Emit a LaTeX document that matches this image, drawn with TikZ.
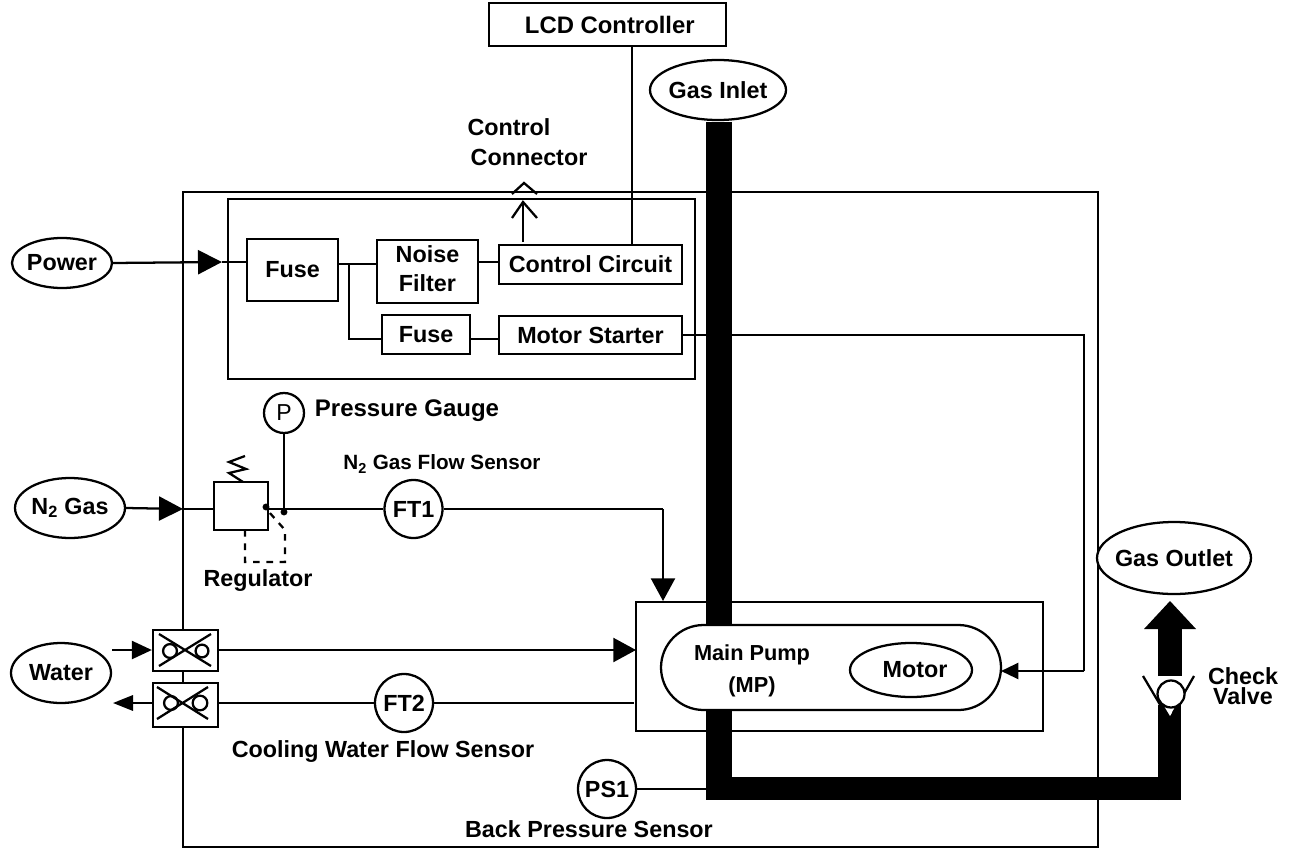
\documentclass[tikz,border=0pt]{standalone}
\usepackage{fontspec}
\setmainfont{Liberation Sans}
\usetikzlibrary{shapes.geometric,arrows.meta}
\tikzset{
  ln/.style={line width=1.7pt,line cap=butt},
  lbl/.style={font=\bfseries\fontsize{17.5pt}{21.5pt}\selectfont,inner sep=0pt,align=center},
  boxn/.style n args={2}{draw,ln,rectangle,fill=white,inner sep=0pt,align=center,font=\bfseries\fontsize{17.5pt}{21.5pt}\selectfont,minimum width=#1*0.75pt,minimum height=#2*0.75pt},
  oval/.style n args={2}{draw,ln,ellipse,fill=white,inner sep=-12pt,align=center,font=\bfseries\fontsize{17.5pt}{21.5pt}\selectfont,minimum width=#1*0.75pt,minimum height=#2*0.75pt},
  disc/.style={draw,ln,circle,fill=white,inner sep=0pt,font=\bfseries\fontsize{17.5pt}{21.5pt}\selectfont,minimum size=#1*0.75pt},
  big/.style={-{Triangle[length=18pt,width=18pt]}},
  mid/.style={-{Triangle[length=17pt,width=18pt]}},
  small/.style={-{Triangle[length=13pt,width=12pt]}},
  wIn/.style={-{Triangle[length=15pt,width=13.5pt]}},
  wOut/.style={-{Triangle[length=15pt,width=11.5pt]}},
  pipe/.style={line width=#1*0.75pt,line cap=butt,line join=miter},
}
\begin{document}
\begin{tikzpicture}[x=0.75pt,y=-0.75pt]
\useasboundingbox (0,0) rectangle (1291,863);
% enclosures
\node[boxn={915}{655}] (outer) at (640.5,519.5) {};
\node[boxn={467}{180}] (inner) at (461.5,289) {};
\node[boxn={237}{43},font=\bfseries\fontsize{17.9pt}{21.5pt}\selectfont] (lcd) at (607.5,24.5) {\raisebox{-2pt}{\hspace*{3.5pt}LCD Controller}};
% electrical section
\node[boxn={91}{62}] (fuseA) at (292.5,270) {Fuse};
\node[boxn={101}{63}] (noise) at (427.5,271.5) {\raisebox{1.5pt}{\begin{tabular}{@{}c@{}}Noise\\Filter\end{tabular}}};
\node[boxn={183}{39}] (ctrl) at (590.5,264.5) {\raisebox{0.7pt}{Control Circuit}};
\node[boxn={88}{39}] (fuseB) at (426,334.5) {\raisebox{-1pt}{Fuse}};
\node[boxn={183}{38}] (starter) at (590.5,335) {\raisebox{-0.7pt}{Motor Starter}};
\node[oval={100}{50}] (power) at (62,263) {Power};
\coordinate (powerTip) at (222,262);
\draw[ln,big] (power.east) -- (powerTip);
\draw[ln] (powerTip) -- (fuseA.west |- powerTip);
\coordinate (jA) at (338,264);
\coordinate (jB) at (349,264);
\coordinate (jC) at (349,339);
\draw[ln] (jA) -- (noise.west |- jA);
\draw[ln] (jB) -- (jC) -- (fuseB.west |- jC);
\coordinate (jD) at (470,339);
\draw[ln] (jD) -- (starter.west |- jD);
\coordinate (jE) at (478,262);
\draw[ln] (jE) -- (ctrl.west |- jE);
\coordinate (lcdDrop) at (632,46);
\draw[ln] (lcdDrop) -- (lcdDrop |- ctrl.north);
% control connector
\coordinate (ccBase) at (523,242);
\coordinate (ccTip) at (523,202);
\coordinate (ccA) at (512,218);
\coordinate (ccB) at (537,218);
\coordinate (capA) at (512,194);
\coordinate (capT) at (524,183);
\coordinate (capB) at (537,194);
\draw[ln] (ccBase) -- (ccTip);
\draw[ln] (ccA) -- (ccTip) -- (ccB);
\draw[ln] (capA) -- (capT) -- (capB);
\node[lbl,anchor=center] (ccL1) at (509,127) {Control};
\node[lbl,anchor=center] (ccL2) at (529,157) {Connector};
% motor feed
\node[boxn={407}{129}] (pump) at (839.5,666.5) {};
\node[draw,ln,rectangle,rounded corners=32pt,fill=white,minimum width=340*0.75pt,minimum height=85*0.75pt,inner sep=0pt] (mainp) at (831,667.5) {};
\node[lbl,font=\bfseries\fontsize{16.3pt}{23.5pt}\selectfont] (mpL) at (752,671) {Main Pump\\(MP)};
\node[oval={122}{54}] (motor) at (911,670) {\hspace*{6pt}Motor};
\coordinate (feedA) at (1084,335);
\coordinate (feedB) at (1084,671);
\coordinate (feedTip) at (1001,671);
\draw[ln] (starter.east |- feedA) -- (feedA) -- (feedB);
\draw[ln,small] (feedB) -- (feedTip);
% N2 line
\node[oval={110}{60}] (n2) at (70,508) {N\textsubscript{2} Gas};
\coordinate (n2Tip) at (183,509);
\node[boxn={54}{48}] (reg) at (241,506) {};
\draw[ln,big] (n2.east) -- (n2Tip);
\draw[ln] (n2Tip) -- (reg.west |- n2Tip);
\coordinate (sp1) at (245,456);
\coordinate (sp2) at (229,462);
\coordinate (sp3) at (246,469);
\coordinate (sp4) at (229,473);
\coordinate (sp5) at (243,482);
\draw[ln] (sp1) -- (sp2) -- (sp3) -- (sp4) -- (sp5);
\node[disc=40] (gauge) at (284,413) {\fontsize{17.3pt}{20pt}\selectfont\mdseries P};
\node[disc=58] (ft1) at (413.5,509) {FT1};
\coordinate (gaugeJ) at (284,509);
\draw[ln] (gauge.south) -- (gaugeJ);
\draw[ln] (reg.east |- ft1) -- (ft1.west);
\coordinate (dotA) at (266,507);
\coordinate (dotB) at (284,512);
\fill (dotA) circle (2.6pt) (dotB) circle (2.6pt);
\coordinate (ds1) at (245,530);
\coordinate (ds2) at (245,562);
\coordinate (ds3) at (285,562);
\coordinate (ds4) at (285,530);
\coordinate (ds5) at (269,512);
\draw[ln,dashed,dash pattern=on 5pt off 5pt] (ds1) -- (ds2) -- (ds3) -- (ds4) -- (ds5);
\coordinate (ftA) at (663,509);
\coordinate (ftTip) at (663,601);
\draw[ln] (ft1.east) -- (ftA);
\draw[ln,mid] (ftA) -- (ftTip);
\node[lbl,font=\bfseries\fontsize{18pt}{21.5pt}\selectfont] (pgL) at (407,411) {Pressure Gauge};
\node[lbl,font=\bfseries\fontsize{15.5pt}{21.5pt}\selectfont] (n2L) at (442,464) {N\textsubscript{2} Gas Flow Sensor};
\node[lbl] (regL) at (258,581) {Regulator};
% water
\node[oval={100}{60}] (water) at (61,673) {Water};
\node[boxn={65}{41}] (v1) at (185.5,650.5) {};
\node[boxn={65}{44}] (v2) at (185.5,705) {};
\coordinate (w1s) at (112,650);
\coordinate (w1e) at (636,650);
\coordinate (w2e) at (113,703);
\draw[ln,wIn] (w1s) -- (v1.west |- w1s);
\draw[ln,mid] (v1.east |- w1e) -- (w1e);
\draw[ln,wOut] (v2.west |- w2e) -- (w2e);
\node[disc=58] (ft2) at (404,703) {FT2};
\draw[ln] (v2.east |- ft2) -- (ft2.west);
\coordinate (w2r) at (634,703);
\draw[ln] (ft2.east) -- (w2r);
\node[lbl] (cwL) at (383,752) {Cooling Water Flow Sensor};
% valve glyphs
\coordinate (xa) at (159,634);\coordinate (xb) at (211,666);
\coordinate (xc) at (159,666);\coordinate (xd) at (211,634);
\draw[ln] (xa) -- (xb) (xc) -- (xd);
\coordinate (ca) at (170,651);\coordinate (cb) at (202,651);
\draw[ln] (ca) circle (5.2pt) (cb) circle (4.8pt);
\coordinate (xe) at (157,687);\coordinate (xf) at (208,719);
\coordinate (xg) at (157,719);\coordinate (xh) at (208,687);
\draw[ln] (xe) -- (xf) (xg) -- (xh);
\coordinate (cc) at (171,703);\coordinate (cd) at (200,703);
\draw[ln] (cc) circle (5.2pt) (cd) circle (5.5pt);
% back pressure
\node[disc=58] (ps1) at (607,789) {PS1};
\coordinate (psE) at (706,789);
\draw[ln] (ps1.east) -- (psE);
\node[lbl] (bpL) at (589,829) {Back Pressure Sensor};
% gas path
\node[oval={136}{60}] (inlet) at (718,90) {Gas Inlet};
\node[oval={154}{72}] (outlet) at (1174,558) {Gas Outlet};
\coordinate (p1) at (719,122);
\coordinate (p2) at (719,625);
\coordinate (p3) at (719,710);
\coordinate (p4) at (719,800);
\coordinate (p5) at (706,788.5);
\coordinate (p6) at (1181,788.5);
\coordinate (p7) at (1169.5,800);
\coordinate (p8) at (1169.5,705);
\draw[pipe=26] (p1) -- (p2);
\draw[pipe=26] (p3) -- (p4);
\draw[pipe=23] (p5) -- (p6);
\draw[pipe=23] (p7) -- (p8);
% check valve
\coordinate (o1) at (1170,676);
\coordinate (o2) at (1170,629);
\coordinate (oTip) at (1170,601);
\coordinate (oA) at (1144,629);
\coordinate (oB) at (1196,629);
\draw[pipe=24] (o1) -- (o2);
\fill (oTip) -- (oA) -- (oB) -- cycle;
\coordinate (t1) at (1164,706);
\coordinate (t2) at (1176,706);
\coordinate (t3) at (1170,716);
\fill[white] (t1) -- (t2) -- (t3) -- cycle;
\coordinate (vA) at (1143,676);
\coordinate (vB) at (1165,713);
\coordinate (vC) at (1194,676);
\coordinate (vD) at (1173,713);
\draw[ln] (vA) -- (vB) (vC) -- (vD);
\node[disc=27] (ball) at (1171,694) {};
\node[lbl,font=\bfseries\fontsize{17.5pt}{15pt}\selectfont] (cvL) at (1243,686) {Check\\Valve};
\end{tikzpicture}
\end{document}
